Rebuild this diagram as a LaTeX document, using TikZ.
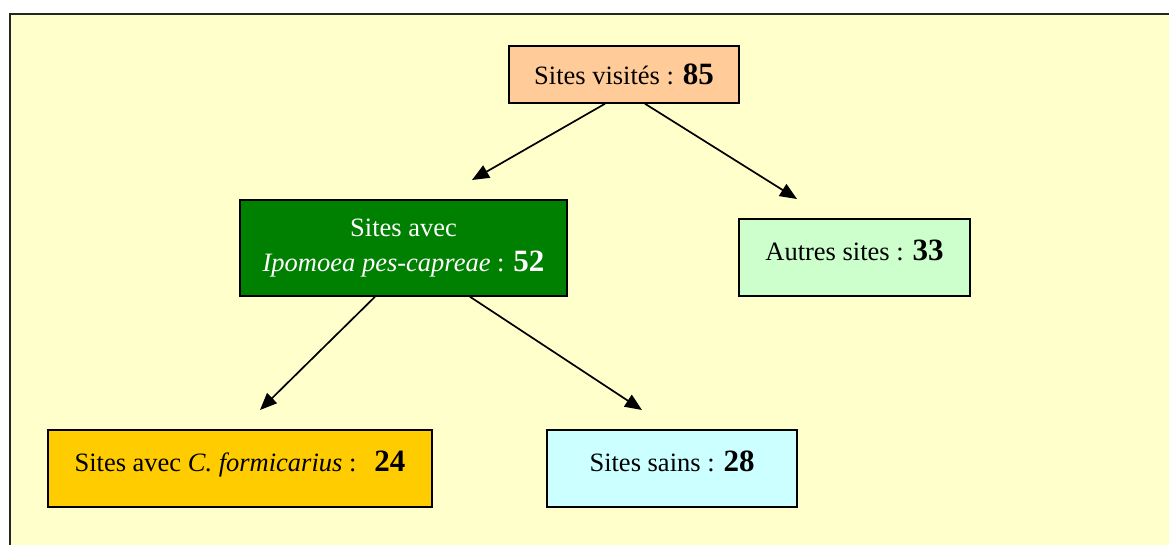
\documentclass[tikz,border=0pt]{standalone}
\usepackage{fontspec}
\setmainfont{Liberation Serif}
\usetikzlibrary{arrows.meta,calc}
\definecolor{bgy}{HTML}{FFFFCC}
\definecolor{peach}{HTML}{FFCC99}
\definecolor{dgreen}{HTML}{008000}
\definecolor{lgreen}{HTML}{CCFFCC}
\definecolor{gold}{HTML}{FFCC00}
\definecolor{lcyan}{HTML}{CCFFFF}
\newcommand{\bnum}[1]{{\fontsize{31}{34}\selectfont\bfseries #1}}
\newcommand{\dstrut}{\rule[-15pt]{0pt}{15pt}}
\tikzset{
  box/.style={draw=black, line width=1.5pt, inner sep=0pt, align=center,
    font=\fontsize{26.5}{35}\selectfont},
  arr/.style={line width=1.7pt, -{Triangle[length=17pt,width=14pt]}}
}
\begin{document}
\begin{tikzpicture}[x=1pt,y=-1pt]
\useasboundingbox (0,0) rectangle (1169,544);
\begin{scope}
\clip (0,0) rectangle (1169,544);
\draw[fill=bgy, line width=2.2pt, draw=black!85] (10,14) rectangle (1180,560);
\end{scope}
\node[box, fill=peach, minimum width=230pt, minimum height=57pt] (top) at (624,74.5) {Sites visités : \bnum{85}};
\node[box, fill=dgreen, text=white, minimum width=327pt, minimum height=96pt] (green) at (403.5,248) {Sites avec\\\textit{Ipomoea pes-capreae} : \bnum{52}};
\node[box, fill=lgreen, minimum width=231pt, minimum height=77pt] (autres) at (854.5,257.5) {\dstrut Autres sites : \bnum{33}};
\node[box, fill=gold, minimum width=384pt, minimum height=77pt] (formi) at (240,468.5) {\dstrut Sites avec \textit{C. formicarius} :\hspace{18pt}\bnum{24}};
\node[box, fill=lcyan, minimum width=250pt, minimum height=77pt] (sains) at (672,468.5) {\dstrut Sites sains : \bnum{28}};
\coordinate (e1) at (472,180);
\coordinate (e2) at (797,199);
\coordinate (e3) at (260,410);
\coordinate (e4) at (642,410);
\draw[arr] ([xshift=-19pt]top.south) -- (e1);
\draw[arr] ([xshift=21pt]top.south) -- (e2);
\draw[arr] ([xshift=-28.5pt]green.south) -- (e3);
\draw[arr] ([xshift=66.5pt]green.south) -- (e4);
\end{tikzpicture}
\end{document}
